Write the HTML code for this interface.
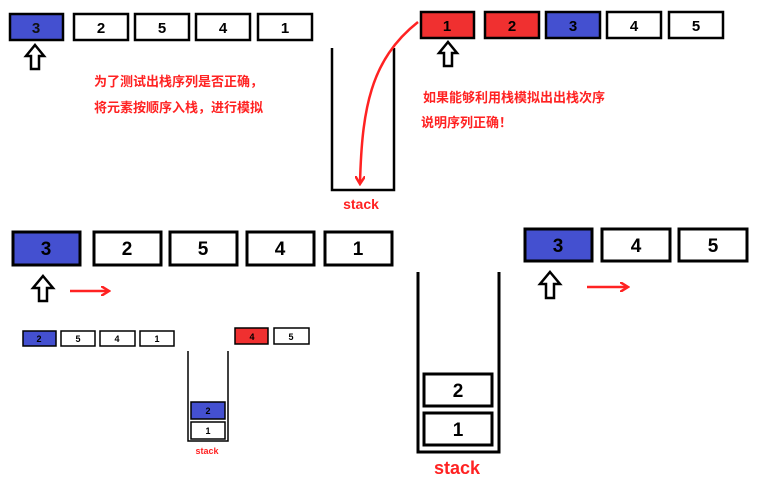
<!DOCTYPE html>
<html><head><meta charset="utf-8"><style>
html,body{margin:0;padding:0;background:#fff;width:765px;height:483px;overflow:hidden}
text{font-family:"Liberation Sans","Noto Sans CJK SC",sans-serif;font-weight:bold}
</style></head><body>
<svg width="765" height="483" viewBox="0 0 765 483" xmlns="http://www.w3.org/2000/svg">
<defs>
<marker id="ah" markerWidth="10" markerHeight="10" refX="7" refY="5" orient="auto" markerUnits="userSpaceOnUse"><path d="M0,0 L8,5 L0,10" fill="none" stroke="#f22" stroke-width="2.5"/></marker>
</defs>
<g stroke="#000" stroke-width="2.5">
<!-- top-left row -->
<rect x="10" y="14" width="53" height="26" fill="#4450d0"/>
<rect x="74" y="14" width="54" height="26" fill="#fff"/>
<rect x="135" y="14" width="54" height="26" fill="#fff"/>
<rect x="196" y="14" width="54" height="26" fill="#fff"/>
<rect x="258" y="14" width="54" height="26" fill="#fff"/>
<!-- top-right row -->
<rect x="421" y="12" width="53" height="26" fill="#f03030"/>
<rect x="485" y="12" width="54" height="26" fill="#f03030"/>
<rect x="546" y="12" width="54" height="26" fill="#4450d0"/>
<rect x="607" y="12" width="54" height="26" fill="#fff"/>
<rect x="669" y="12" width="54" height="26" fill="#fff"/>
<!-- top stack -->
<polyline points="332,48 332,190 394,190 394,48" fill="none"/>
<!-- bottom-left big row -->
<rect x="13" y="232" width="67" height="33" fill="#4450d0" stroke-width="3"/>
<rect x="94" y="232" width="67" height="33" fill="#fff" stroke-width="3"/>
<rect x="170" y="232" width="67" height="33" fill="#fff" stroke-width="3"/>
<rect x="247" y="232" width="67" height="33" fill="#fff" stroke-width="3"/>
<rect x="325" y="232" width="67" height="33" fill="#fff" stroke-width="3"/>
<!-- small row -->
<g stroke-width="1.5">
<rect x="23" y="331" width="33" height="15" fill="#4450d0"/>
<rect x="61" y="331" width="34" height="15" fill="#fff"/>
<rect x="100" y="331" width="35" height="15" fill="#fff"/>
<rect x="140" y="331" width="34" height="15" fill="#fff"/>
<rect x="235" y="328" width="33" height="16" fill="#f03030"/>
<rect x="274" y="328" width="35" height="16" fill="#fff"/>
<polyline points="188,351 188,441 228,441 228,351" fill="none"/>
<rect x="191" y="402" width="34" height="17" fill="#4450d0"/>
<rect x="191" y="422" width="34" height="17" fill="#fff"/>
</g>
<!-- big stack -->
<polyline points="418,272 418,452 499,452 499,272" fill="none" stroke-width="3"/>
<rect x="424" y="374" width="68" height="32" fill="#fff" stroke-width="3"/>
<rect x="424" y="413" width="68" height="32" fill="#fff" stroke-width="3"/>
<!-- right row -->
<rect x="525" y="229" width="67" height="32" fill="#4450d0" stroke-width="3"/>
<rect x="602" y="229" width="68" height="32" fill="#fff" stroke-width="3"/>
<rect x="679" y="229" width="68" height="32" fill="#fff" stroke-width="3"/>
<!-- hollow up arrows -->
<g fill="#fff" stroke-width="2.5">
<polygon points="35,45 44,56 39,56 39,69 31,69 31,56 26,56"/>
<polygon points="448,42 457,53 452,53 452,66 444,66 444,53 439,53"/>
<polygon points="43,276 53,288 47,288 47,301 39,301 39,288 33,288"/>
<polygon points="550,272 560,284 554,284 554,298 546,298 546,284 540,284"/>
</g>
</g>
<!-- red arrows -->
<g stroke="#f22" stroke-width="2.5" fill="none">
<path d="M418,22 C370,60 362,110 360,183" marker-end="url(#ah)"/>
<line x1="70" y1="291" x2="108" y2="291" marker-end="url(#ah)"/>
<line x1="587" y1="287" x2="627" y2="287" marker-end="url(#ah)"/>
</g>
<!-- labels -->
<g text-anchor="middle" font-size="15" fill="#000">
<text x="36" y="33" fill="#111">3</text><text x="101" y="33">2</text><text x="162" y="33">5</text><text x="223" y="33">4</text><text x="285" y="33">1</text>
<text x="447" y="31">1</text><text x="512" y="31">2</text><text x="573" y="31">3</text><text x="634" y="31">4</text><text x="696" y="31">5</text>
</g>
<g text-anchor="middle" font-size="19" fill="#000">
<text x="46" y="255">3</text><text x="127" y="255">2</text><text x="203" y="255">5</text><text x="280" y="255">4</text><text x="358" y="255">1</text>
<text x="458" y="397">2</text><text x="458" y="436">1</text>
<text x="558" y="252">3</text><text x="636" y="252">4</text><text x="713" y="252">5</text>
</g>
<g text-anchor="middle" font-size="9" fill="#000">
<text x="39" y="342">2</text><text x="78" y="342">5</text><text x="117" y="342">4</text><text x="157" y="342">1</text>
<text x="252" y="340">4</text><text x="291" y="340">5</text>
<text x="208" y="414">2</text><text x="208" y="434">1</text>
</g>
<g fill="#f22" text-anchor="middle">
<text x="361" y="209" font-size="14">stack</text>
<text x="207" y="454" font-size="9">stack</text>
<text x="457" y="474" font-size="18">stack</text>
</g>
<g fill="#f22" font-size="13">
<text x="94" y="86">为了测试出栈序列是否正确，</text>
<text x="94" y="112">将元素按顺序入栈，进行模拟</text>
<text x="423" y="102">如果能够利用栈模拟出出栈次序</text>
<text x="421" y="127">说明序列正确！</text>
</g>
</svg>
</body></html>
